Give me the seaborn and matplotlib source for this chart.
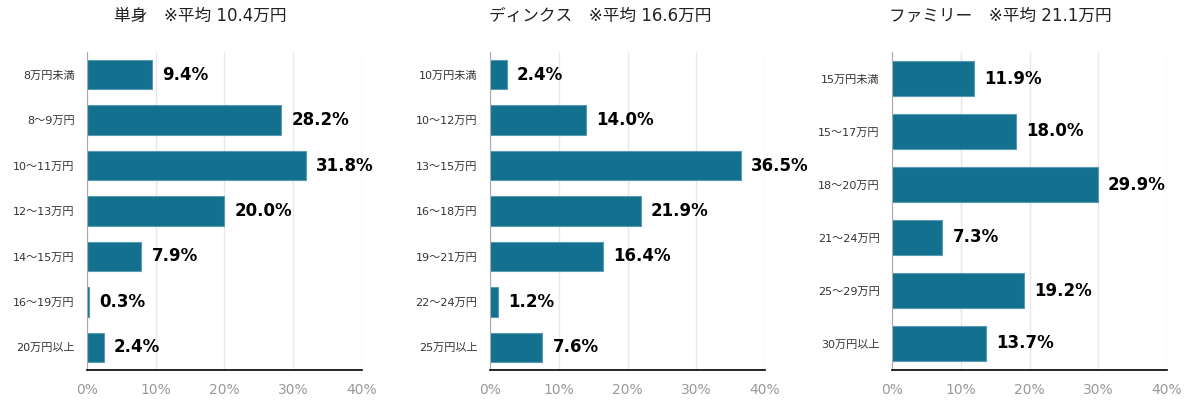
import numpy as np
import pandas as pd
import seaborn as sns
import matplotlib.pyplot as plt

# dati
titoli = ["単身　※平均 10.4万円", "ディンクス　※平均 16.6万円", "ファミリー　※平均 21.1万円"]

cat_single = ["8万円未満", "8～9万円", "10～11万円", "12～13万円", "14～15万円", "16～19万円", "20万円以上"]
val_single = [9.4, 28.2, 31.8, 20.0, 7.9, 0.3, 2.4]

cat_dinks = ["10万円未満", "10～12万円", "13～15万円", "16～18万円", "19～21万円", "22～24万円", "25万円以上"]
val_dinks = [2.4, 14.0, 36.5, 21.9, 16.4, 1.2, 7.6]

cat_family = ["15万円未満", "15～17万円", "18～20万円", "21～24万円", "25～29万円", "30万円以上"]
val_family = [11.9, 18.0, 29.9, 7.3, 19.2, 13.7]

sns.set_style("white")
plt.rcParams['font.family'] = ['DejaVu Sans', 'Noto Sans CJK JP']

colore = "#13718f"
fig = plt.figure(figsize=(12, 4.08), dpi=100)

pannelli = [(cat_single, val_single), (cat_dinks, val_dinks), (cat_family, val_family)]
sinistra = [87, 490, 892]

for i, (cats, vals) in enumerate(pannelli):
    ax = fig.add_axes([sinistra[i] / 1200, 1 - 370 / 408, 275 / 1200, 318 / 408])
    df = pd.DataFrame({"cat": cats, "val": vals})
    sns.barplot(data=df, y="cat", x="val", orient="h", color=colore, saturation=1,
                width=0.65, edgecolor="#5a9bb3", linewidth=0.8, ax=ax)
    ax.set_xlim(0, 40)
    ax.set_ylim(len(cats) - 0.5, -0.5)
    ax.set_xticks([0, 10, 20, 30, 40])
    ax.set_xticklabels([f"{t}%" for t in [0, 10, 20, 30, 40]], color="#999999", fontsize=10)
    ax.xaxis.grid(True, color="#e8e8e8", linewidth=1)
    ax.set_axisbelow(True)
    ax.set_xlabel("")
    ax.set_ylabel("")
    ax.tick_params(axis="y", length=0, labelsize=8, pad=9, labelcolor="#333333")
    ax.tick_params(axis="x", length=5, width=1, color="black", pad=4)
    # tacche tra le categorie sull'asse y
    ax.set_yticks(np.arange(-0.5, len(cats), 1), minor=True)
    ax.tick_params(axis="y", which="minor", length=5, color="#aaaaaa", width=1)
    for s in ["top", "right"]:
        ax.spines[s].set_visible(False)
    ax.spines["left"].set_color("#aaaaaa")
    ax.spines["bottom"].set_color("black")
    ax.spines["bottom"].set_linewidth(1.2)
    for j, v in enumerate(vals):
        ax.text(v + 1.5, j, f"{v:.1f}%", va="center", ha="left", fontsize=12,
                fontweight="bold", color="black")
    fig.text((2 * i + 1) / 6, 1 - 16 / 408, titoli[i], ha="center", va="center",
             fontsize=12, color="#222222")

plt.savefig("out.png", dpi=100)
